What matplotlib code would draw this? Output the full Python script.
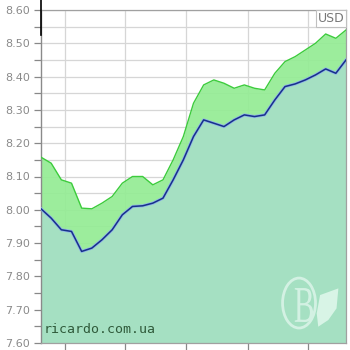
import matplotlib
matplotlib.use("Agg")
import matplotlib.pyplot as plt
from matplotlib.patches import Ellipse, PathPatch
from matplotlib.textpath import TextPath
from matplotlib.font_manager import FontProperties
from matplotlib.transforms import Affine2D

days = list(range(31))
buy = [8.003, 7.975, 7.94, 7.935, 7.875, 7.885, 7.91, 7.94, 7.985, 8.01,
       8.012, 8.02, 8.035, 8.09, 8.15, 8.22, 8.27, 8.26, 8.25, 8.27,
       8.285, 8.28, 8.285, 8.33, 8.37, 8.378, 8.39, 8.405, 8.423, 8.41, 8.45]
sell = [8.158, 8.14, 8.09, 8.08, 8.005, 8.003, 8.02, 8.04, 8.08, 8.10,
        8.10, 8.075, 8.09, 8.15, 8.22, 8.32, 8.375, 8.39, 8.38, 8.365,
        8.375, 8.365, 8.36, 8.41, 8.445, 8.46, 8.48, 8.50, 8.528, 8.515, 8.54]
yticks = [7.60, 7.70, 7.80, 7.90, 8.00, 8.10, 8.20, 8.30, 8.40, 8.50, 8.60]
ytick_labels = ["7.60", "7.70", "7.80", "7.90", "8.00", "8.10", "8.20", "8.30", "8.40", "8.50", "8.60"]
minor_y = [7.65, 7.75, 7.85, 7.95, 8.05, 8.15, 8.25, 8.35, 8.45, 8.55]
xgrid = [2.36, 8.26, 14.26, 20.36, 26.26]
currency = "USD"
source = "ricardo.com.ua"

fig = plt.figure(figsize=(3.5, 3.5), dpi=100)
ax = fig.add_axes([41/350, 1-343/350, 305/350, 333/350])
ax.set_xlim(0, 30)
ax.set_ylim(7.60, 8.60)

# grid
for y in yticks + minor_y:
    ax.axhline(y, color="#d6d6d6", lw=0.9, zorder=0)
for x in xgrid:
    ax.axvline(x, color="#d6d6d6", lw=0.9, zorder=0)

ax.fill_between(days, sell, 7.60, color="#94ec94", alpha=0.92, lw=0, zorder=1)
ax.fill_between(days, buy, 7.60, color="#a6e0c6", alpha=0.93, lw=0, zorder=2)
ax.plot(days, sell, color="#3ccc3c", lw=1.0, zorder=3)
ax.plot(days, buy, color="#8fb4e8", lw=2.2, zorder=3)
ax.plot(days, buy, color="#17318a", lw=1.1, zorder=4)

ax.set_yticks(yticks)
ax.set_yticklabels(ytick_labels)
ax.set_yticks(minor_y, minor=True)
ax.set_xticks(xgrid)
ax.set_xticklabels([])
ax.tick_params(axis="y", which="both", length=5, width=0.9, color="#888888",
               labelsize=8, labelcolor="#8a8a8a", pad=3)
ax.tick_params(axis="x", length=7, width=0.9, color="#888888", direction="out")

for s in ["top", "right", "bottom"]:
    ax.spines[s].set_color("#a0a0a0")
    ax.spines[s].set_linewidth(0.9)
ax.spines["left"].set_color("#8a8a8a")
ax.spines["left"].set_linewidth(1.0)

# black marker at top of left axis
ax.plot([0, 0], [1.03, 0.925], transform=ax.transAxes, color="black", lw=1.2,
        clip_on=False, zorder=10)

ax.text(0.995, 0.993, currency, transform=ax.transAxes, ha="right", va="top",
        fontsize=9, color="#777777", zorder=6,
        bbox=dict(boxstyle="square,pad=0.15", fc="white", ec="#c0c0c0", lw=0.8))
ax.text(0.01, 0.02, source, transform=ax.transAxes, ha="left", va="bottom",
        fontsize=9.5, family="DejaVu Sans Mono", color="#2f5a3a", zorder=6)

# watermark
wm = "#d3f1e3"
ell = Ellipse((0.846, 0.120), 0.108, 0.150, transform=ax.transAxes, fill=False,
              ec=wm, lw=2.0, zorder=5)
ax.add_patch(ell)
tp = TextPath((0, 0), "B", size=1, prop=FontProperties(family="Liberation Serif"))
ext = tp.get_extents()
w_ax, h_ax = 0.060, 0.102
tr = (Affine2D().translate(-ext.x0 - ext.width/2, -ext.y0 - ext.height/2)
      .scale(w_ax/ext.width, h_ax/ext.height).translate(0.862, 0.114))
ax.add_patch(PathPatch(tr.transform_path(tp), transform=ax.transAxes,
                       fc=wm, ec="none", zorder=5))
ax.fill([0.915, 0.975, 0.969, 0.942, 0.909, 0.904],
        [0.144, 0.164, 0.104, 0.069, 0.049, 0.089],
        transform=ax.transAxes, color="#d8f4e6", lw=0, zorder=5)

fig.savefig("out.png", dpi=100)
